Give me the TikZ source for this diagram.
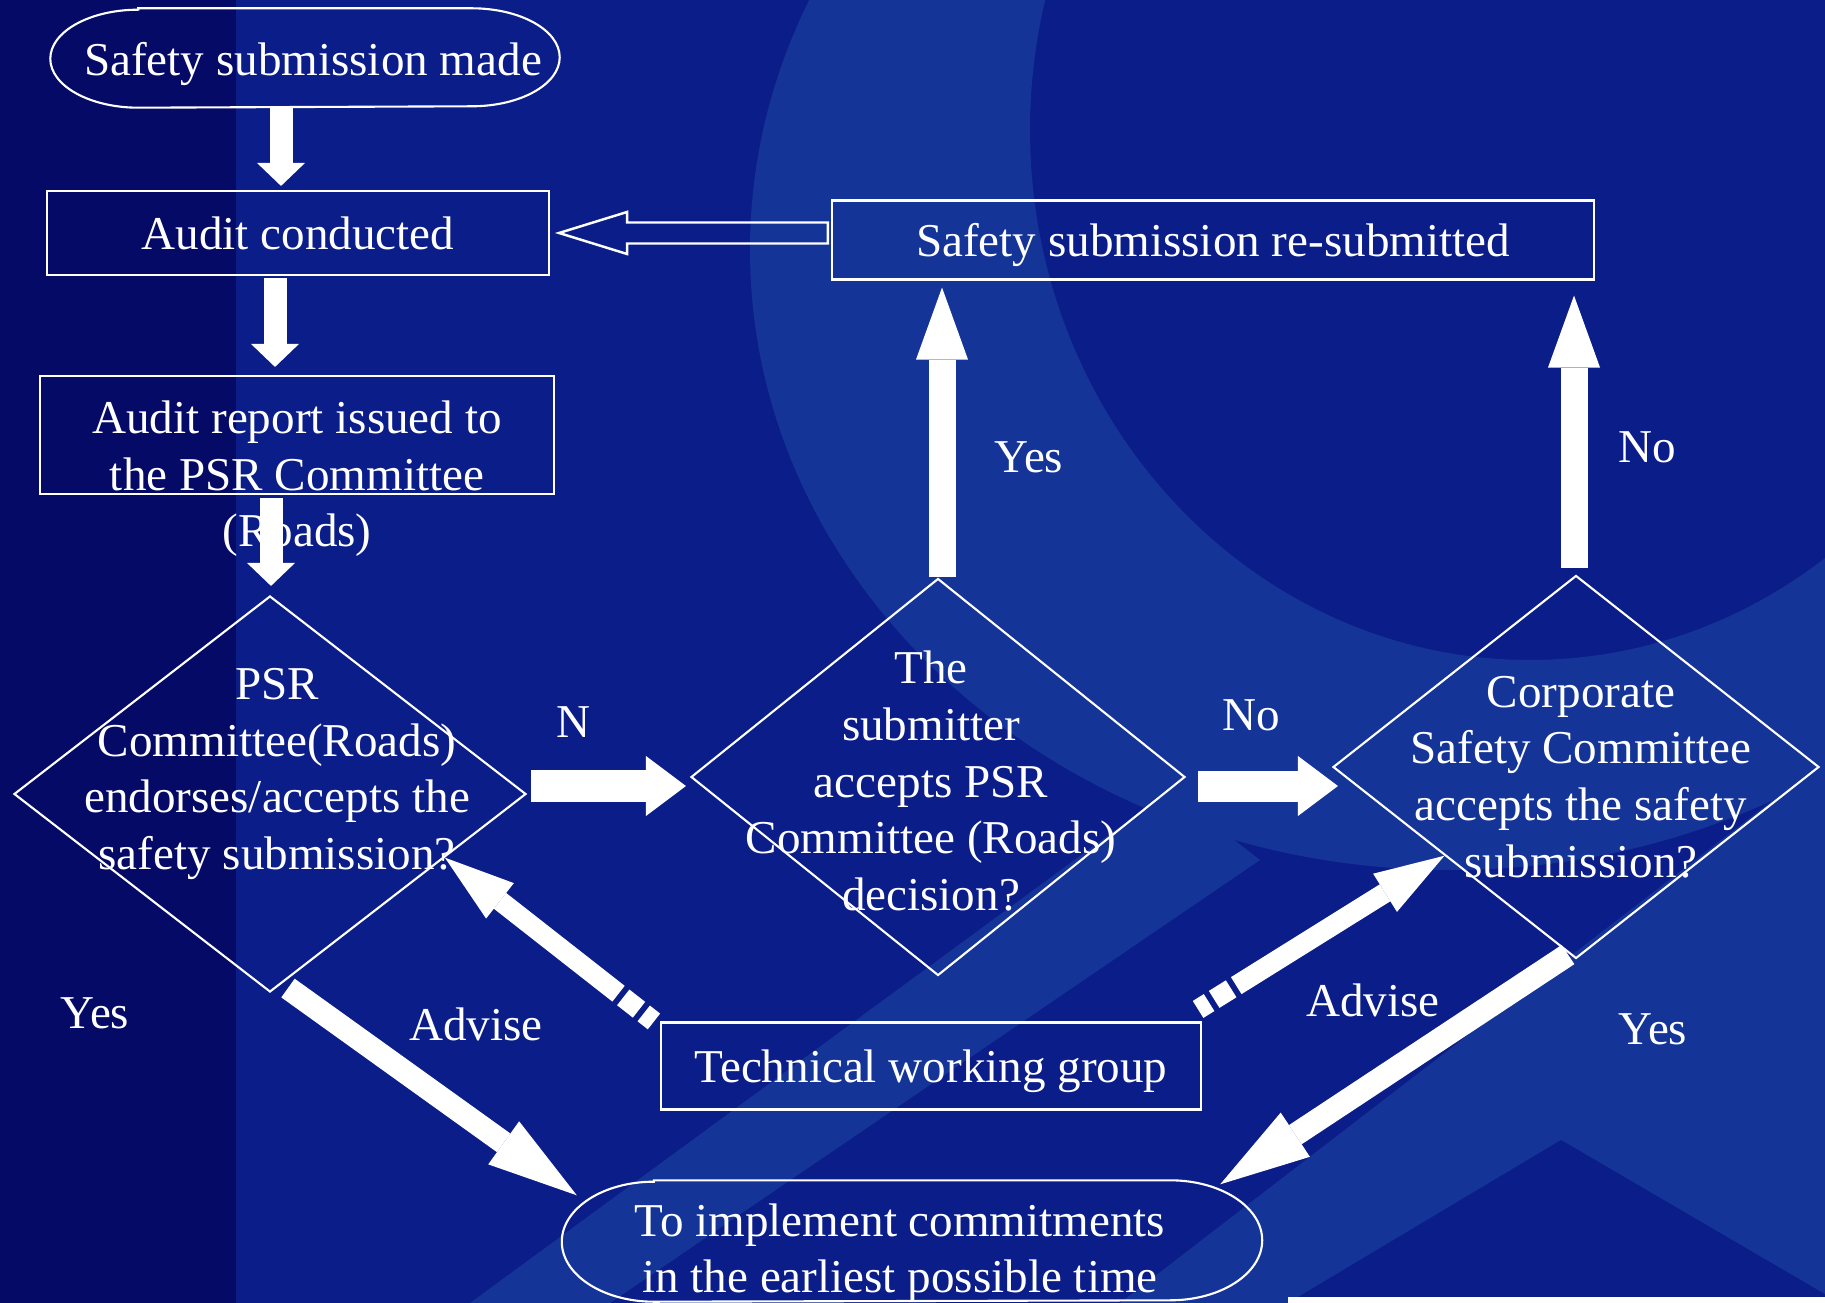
\documentclass[tikz,border=0pt]{standalone}
\usepackage{fontspec}
\setmainfont{Liberation Serif}
\usetikzlibrary{arrows.meta,positioning,shapes.geometric}

\definecolor{slidenavy}{RGB}{11,29,136}
\definecolor{slidedark}{RGB}{4,10,102}
\definecolor{slidelight}{RGB}{20,52,152}

\newcommand{\flowfont}{\fontsize{13.4}{16.1}\selectfont}
% outline of a terminal box: node name, x radius, y radius of the ends
\newcommand{\terminalline}[3]{%
  \draw[flowline] ([xshift=#2]#1.north west) -- ([xshift=-#2]#1.north east)
    arc[start angle=90, end angle=-90, x radius=#2, y radius=#3]
    -- ([xshift=#2]#1.south west)
    arc[start angle=270, end angle=90, x radius=#2, y radius=#3] -- cycle;}

\begin{document}
\begin{tikzpicture}[
    flowline/.style={draw=white, line width=0.6pt},
    box/.style={flowline, rectangle, inner sep=0pt, text=white, font=\flowfont, align=center, text depth=0pt},
    decision/.style={flowline, diamond, inner sep=0pt},
    terminal/.style={rectangle, inner sep=0pt},
    question/.style={text=white, font=\flowfont, align=center, inner sep=0pt},
    answer/.style={text=white, font=\flowfont, inner sep=0pt},
    blockdown/.style={white, line width=2.3mm, -{Triangle[length=2.3mm, width=4.8mm, line width=0pt]}},
    blockright/.style={white, line width=3.1mm, -{Triangle[length=4mm, width=6mm, line width=0pt]}},
    blockup/.style={white, line width=2.7mm, -{Triangle[length=7.2mm, width=5.2mm, line width=0pt]}},
    blockslant/.style={white, line width=2.3mm, -{Triangle[length=9mm, width=5.3mm, line width=0pt]}},
    advise/.style={white, line width=2mm, dash pattern=on 3.7pt off 1.7pt on 5.7pt off 1.7pt on 400pt off 0pt,
      -{Triangle[length=7mm, width=4.5mm, line width=0pt]}}
  ]
  \useasboundingbox (0,0) rectangle (18.25,-13.03);

  % slide background
  \begin{scope}
    \clip (0,0) rectangle (18.25,-13.03);
    \fill[slidenavy] (0,0) rectangle (18.25,-13.03);
    \fill[slidedark] (0,0) rectangle (2.36,-13.03);
    \fill[slidelight, even odd rule] (14.5,-2.5) ellipse [x radius=7, y radius=6.2]
      (15.3,-1.3) ellipse [x radius=5, y radius=5.3];
    \fill[slidelight] (4.7,-13.03) -- (6.1,-13.03) -- (12.6,-8.6) -- (11.7,-7.9) -- cycle;
    \fill[slidelight] (11.2,-13.03) -- (18.25,-7.6) -- (18.25,-13.03) -- cycle;
    \fill[slidenavy] (12.88,-13.03) -- (15.61,-11.4) -- (18.4,-13.03) -- cycle;
    \fill[white] (12.88,-12.97) rectangle (18.25,-13.03);
  \end{scope}

  % boxes
  \node[terminal, minimum width=5.08cm, minimum height=0.98cm] (made) at (3.05,-0.58) {};
  \terminalline{made}{0.88cm}{0.49cm}
  \node[question] (madetext) at (3.13,-0.64) {Safety submission made};

  \node[box, minimum width=5.02cm, minimum height=0.84cm] (audit) at (2.98,-2.33) {Audit conducted};
  \node[box, minimum width=5.14cm, minimum height=1.18cm] (report) at (2.97,-4.35) {};
  \node[question] (reporttext) at (2.97,-4.79) {Audit report issued to\\the PSR Committee\\(Roads)};

  \node[box, minimum width=7.62cm, minimum height=0.79cm] (resub) at (12.13,-2.40) {Safety submission re-submitted};

  \node[decision, minimum width=5.12cm, minimum height=3.96cm] (psr) at (2.70,-7.94) {};
  \node[question] (psrtext) at (2.77,-7.74) {PSR\\Committee(Roads)\\endorses/accepts the\\safety submission?};

  \node[decision, minimum width=4.94cm, minimum height=3.97cm] (accept) at (9.38,-7.77) {};
  \node[question] (accepttext) at (9.31,-7.81) {The\\submitter\\accepts PSR\\Committee (Roads)\\decision?};

  \node[decision, minimum width=4.86cm, minimum height=3.83cm] (corp) at (15.76,-7.67) {};
  \node[question] (corptext) at (15.81,-7.77) {Corporate\\Safety Committee\\accepts the safety\\submission?};

  \node[box, minimum width=5.40cm, minimum height=0.87cm] (twg) at (9.31,-10.66) {Technical working group};

  \node[terminal, minimum width=6.99cm, minimum height=1.20cm] (impl) at (9.12,-12.41) {};
  \terminalline{impl}{0.92cm}{0.60cm}
  \node[question] (impltext) at (9.00,-12.53) {To implement commitments\\in the earliest possible time};

  % answers
  \node[answer] (nright) at (5.73,-7.22) {N};
  \node[answer] (noright) at (12.51,-7.15) {No};
  \node[answer] (yesup) at (10.29,-4.57) {Yes};
  \node[answer] (noup) at (16.47,-4.47) {No};
  \node[answer] (yesleft) at (0.95,-10.13) {Yes};
  \node[answer] (yesright) at (16.53,-10.29) {Yes};
  \node[answer] (adviseleft) at (4.76,-10.24) {Advise};
  \node[answer] (adviseright) at (13.73,-10.00) {Advise};

  % block arrows
  \coordinate (down1) at ([xshift=-2.4mm]made.south);
  \coordinate (down2) at ([xshift=-2.3mm,yshift=-0.2mm]audit.south);
  \coordinate (down3) at ([xshift=-2.6mm,yshift=-0.3mm]report.south);
  \draw[blockdown, shorten >=0.4mm] (down1) -- (down1 |- audit.north);
  \draw[blockdown, shorten >=0.8mm] (down2) -- (down2 |- report.north);
  \draw[blockdown, shorten >=0.9mm] (down3) -- (down3 |- psr.north);

  \coordinate (right1) at ([xshift=0.4mm,yshift=0.8mm]psr.east);
  \coordinate (right2) at ([xshift=1.2mm,yshift=-0.9mm]accept.east);
  \draw[blockright, shorten >=0.4mm] (right1) -- (right1 -| accept.west);
  \draw[blockright, shorten >=-0.6mm] (right2) -- (right2 -| corp.west);

  \coordinate (up1) at ([xshift=0.4mm]accept.north);
  \coordinate (up2) at ([xshift=-0.2mm,yshift=0.6mm]corp.north);
  \draw[blockup, shorten >=0.7mm] (up1) -- (up1 |- resub.south);
  \draw[blockup, shorten >=1.5mm] (up2) -- (up2 |- resub.south);

  \draw[blockslant] ([xshift=1.8mm,yshift=0.5mm]psr.south) -- ([xshift=1.5mm,yshift=-1.5mm]impl.north west);
  \draw[blockslant] ([xshift=-0.8mm,yshift=0.5mm]corp.south) -- ([xshift=-4.2mm,yshift=-0.4mm]impl.north east);

  \draw[advise] ([xshift=-0.6mm]twg.north west) -- (psr.-20.7);
  \draw[advise] ([xshift=-0.4mm,yshift=1.2mm]twg.north east) -- (corp.214);

  % hollow arrow back to the audit
  \coordinate (backtip) at ([xshift=0.9mm]audit.east);
  \coordinate (backtail) at ([xshift=-0.3mm]resub.west |- backtip);
  \draw[flowline, line width=0.7pt] (backtip) -- ++(0.68,0.21) |- ([yshift=1.05mm]backtail)
    -- ([yshift=-1.05mm]backtail) -| ([xshift=6.8mm,yshift=-2.1mm]backtip) -- cycle;
\end{tikzpicture}
\end{document}
